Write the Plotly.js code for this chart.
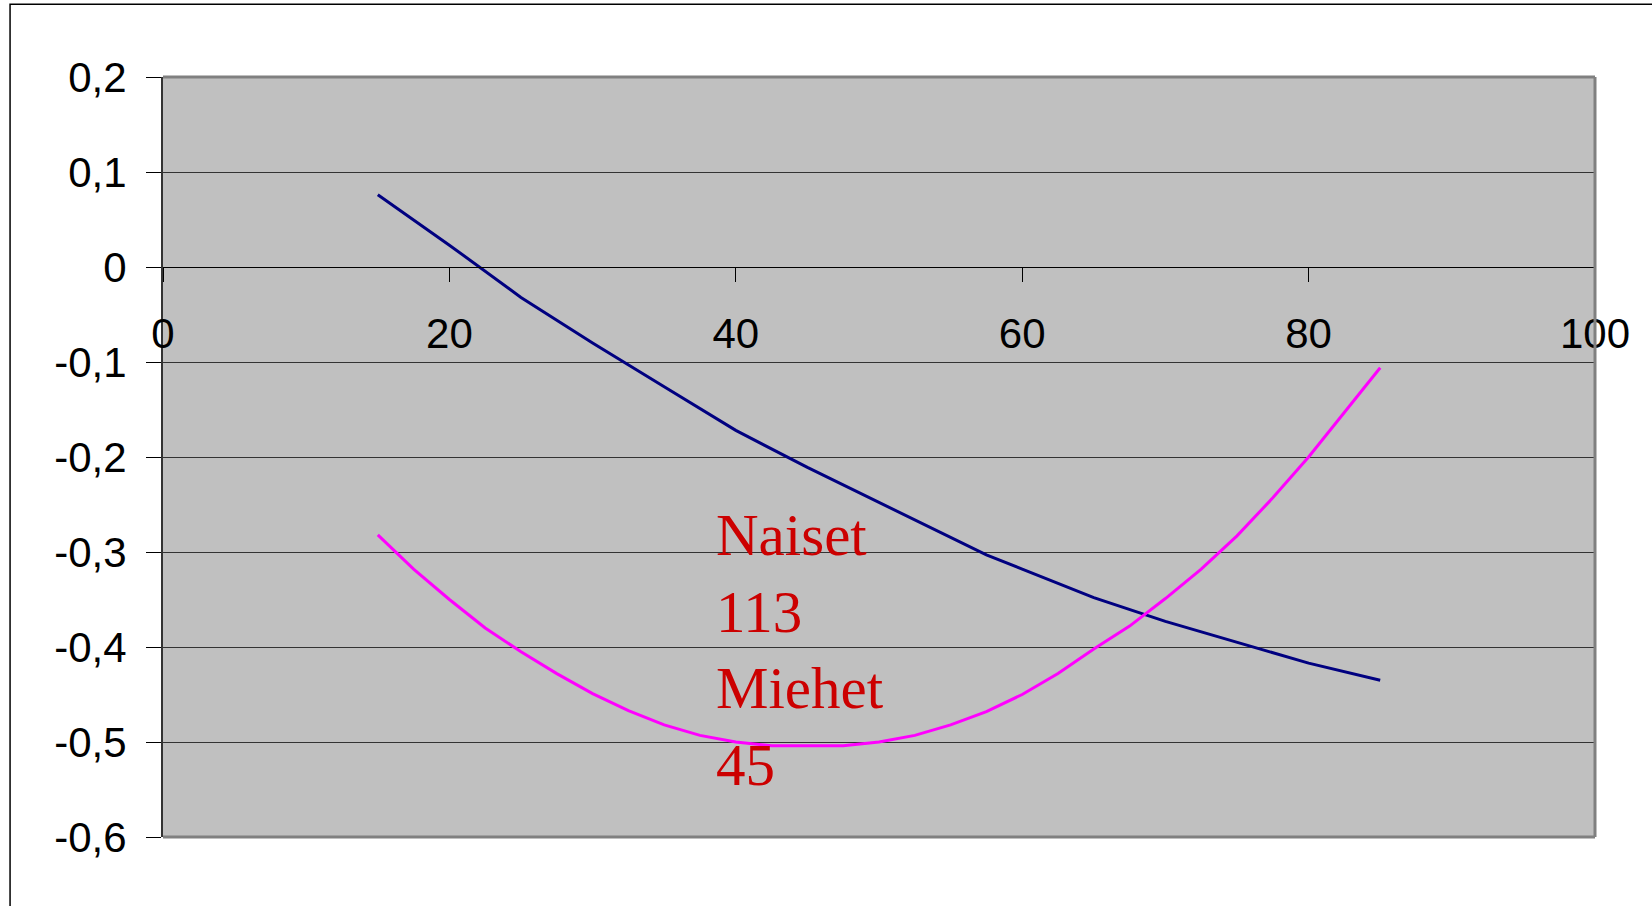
<!DOCTYPE html>
<html>
<head>
<meta charset="utf-8">
<script src="https://cdn.plot.ly/plotly-3.0.1.min.js"></script>
<style>
  html, body { margin: 0; padding: 0; background: #ffffff; }
  #chart { width: 1652px; height: 906px; }
</style>
</head>
<body>
<div id="chart"></div>
<script>
// Navy series
const navyX = [15, 20, 25, 30, 35, 40, 45, 50, 55, 57.5, 60, 65, 70, 75, 80, 85];
const navyY = [0.076, 0.023, -0.032, -0.080, -0.126, -0.172, -0.211, -0.248, -0.285, -0.303, -0.318, -0.348, -0.373, -0.395, -0.417, -0.435];

// Magenta series
const magentaX = [15, 17.5, 20, 22.5, 25, 27.5, 30, 32.5, 35, 37.5, 40, 42.5, 45, 47.5, 50, 52.5, 55, 57.5, 60, 62.5, 65, 67.5, 70, 72.5, 75, 77.5, 80, 82.5, 85];
const magentaY = [-0.282, -0.318, -0.350, -0.380, -0.405, -0.428, -0.449, -0.467, -0.482, -0.493, -0.500, -0.504, -0.504, -0.504, -0.500, -0.493, -0.482, -0.468, -0.450, -0.428, -0.402, -0.378, -0.349, -0.318, -0.283, -0.243, -0.200, -0.153, -0.106];

// Axis ticks
const yTickVals = [0.2, 0.1, 0, -0.1, -0.2, -0.3, -0.4, -0.5, -0.6];
const yTickText = ["0,2", "0,1", "0", "-0,1", "-0,2", "-0,3", "-0,4", "-0,5", "-0,6"];
const xTickVals = [0, 20, 40, 60, 80, 100];
const xTickText = ["0", "20", "40", "60", "80", "100"];

// Annotation text lines
const noteLines = ["Naiset", "113", "Miehet", "45"];

const traces = [
  { x: navyX, y: navyY, type: 'scatter', mode: 'lines',
    line: { color: '#000080', width: 3 }, hoverinfo: 'skip', showlegend: false },
  { x: magentaX, y: magentaY, type: 'scatter', mode: 'lines',
    line: { color: '#FF00FF', width: 3 }, hoverinfo: 'skip', showlegend: false }
];

const layout = {
  width: 1652, height: 906, autosize: false,
  margin: { l: 163, r: 57, t: 77, b: 69, pad: 0 },
  paper_bgcolor: '#ffffff',
  plot_bgcolor: '#C0C0C0',
  showlegend: false,
  font: { family: 'Liberation Sans, Arial, sans-serif', color: '#000000', size: 42 },
  xaxis: {
    range: [0, 100], anchor: 'free', position: 0.75,
    tickmode: 'array', tickvals: xTickVals, ticktext: xTickText,
    ticks: 'outside', ticklen: 14, tickwidth: 1, tickcolor: '#000000',
    showgrid: false, zeroline: false,
    showline: true, linecolor: '#000000', linewidth: 1,
    ticklabelstandoff: 16,
    tickfont: { size: 42, color: '#000000' }
  },
  yaxis: {
    range: [-0.6, 0.2],
    tickmode: 'array', tickvals: yTickVals, ticktext: yTickText,
    ticks: 'outside', ticklen: 15, tickwidth: 1, tickcolor: '#000000',
    showgrid: true, gridcolor: '#333333', gridwidth: 1,
    zeroline: false,
    showline: true, linecolor: '#333333', linewidth: 2,
    ticklabelstandoff: 11,
    tickfont: { size: 42, color: '#000000' }
  },
  shapes: [
    // plot area grey border (top, right, bottom)
    { type: 'line', xref: 'paper', yref: 'paper', x0: 0, x1: 1, y0: 1, y1: 1, line: { color: '#808080', width: 3 }, layer: 'above' },
    { type: 'line', xref: 'paper', yref: 'paper', x0: 1, x1: 1, y0: 0, y1: 1, line: { color: '#808080', width: 3 }, layer: 'above' },
    { type: 'line', xref: 'paper', yref: 'paper', x0: 0, x1: 1, y0: 0, y1: 0, line: { color: '#808080', width: 3 }, layer: 'above' },
    // outer chart frame
    { type: 'rect', xref: 'paper', yref: 'paper', x0: -0.1068, x1: 1.06, y0: -0.2, y1: 1.0957, line: { color: '#000000', width: 1.5 }, fillcolor: 'rgba(0,0,0,0)', layer: 'above' }
  ],
  annotations: [
    { xref: 'x', yref: 'y', x: 38.5, y: -0.403, xanchor: 'left', yanchor: 'middle', align: 'left',
      showarrow: false, text: noteLines.join('<br>'),
      font: { family: 'Liberation Serif, Times New Roman, serif', size: 59, color: '#CC0000' } }
  ]
};

Plotly.newPlot('chart', traces, layout, { staticPlot: true, displayModeBar: false });
</script>
</body>
</html>
